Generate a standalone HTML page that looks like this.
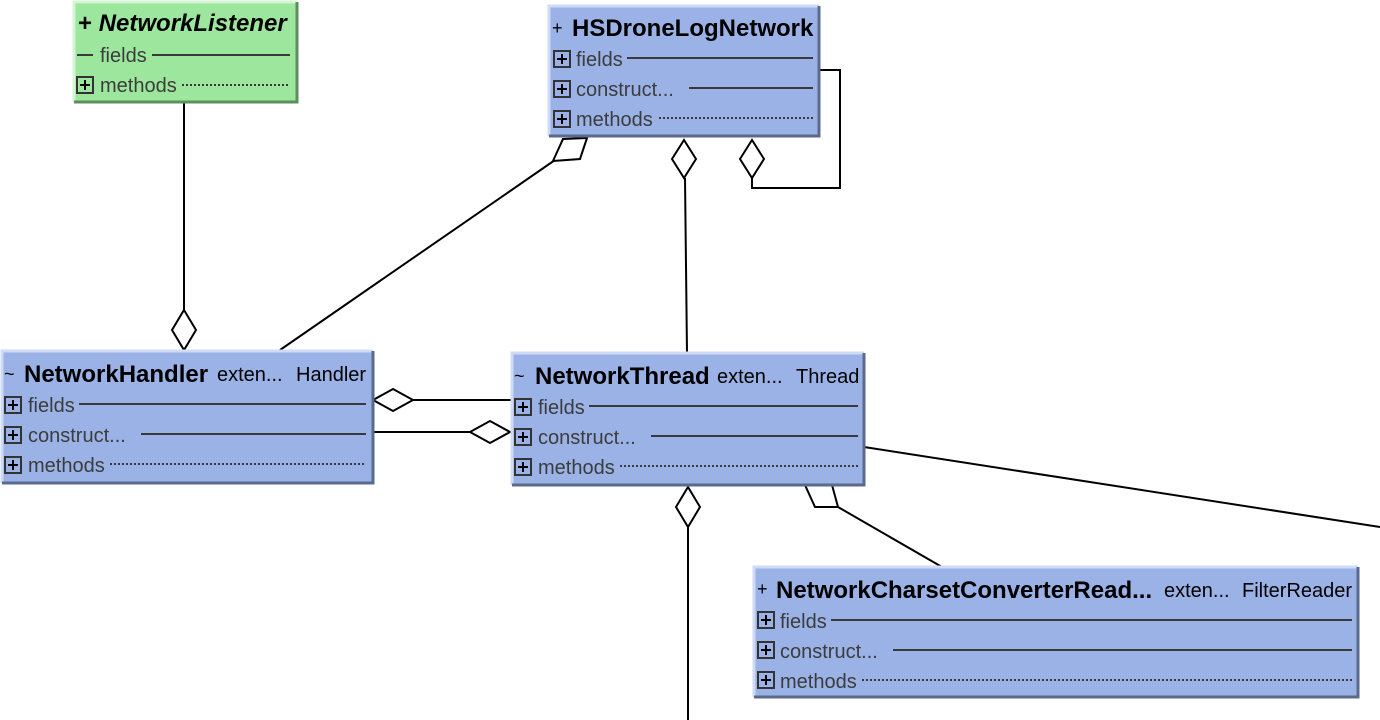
<!DOCTYPE html>
<html><head><meta charset="utf-8"><style>
html,body{margin:0;padding:0;background:#fff;}
svg{display:block;font-family:"Liberation Sans",Arial,sans-serif;}
.t{font-size:24px;font-weight:bold;fill:#000}
.s{font-size:20px;fill:#000}
.p{font-size:18px;fill:#000}
.r{font-size:20px;fill:#3c3c3c}
.ln{stroke:#3a3a3a;stroke-width:2}
.dt{stroke:#3a3a3a;stroke-width:2;stroke-dasharray:2,2}
.c{stroke:#000;stroke-width:2;fill:none}
.d{stroke:#000;stroke-width:2;fill:#fff}
.pb{fill:none;stroke:#333;stroke-width:2}
</style></head><body>
<svg width="1380" height="720" viewBox="0 0 1380 720">
<defs>
<g id="plus"><rect class="pb" x="0" y="-8" width="16" height="16"/><path d="M3 0H13M8 -5V5" stroke="#000" stroke-width="2"/></g>
</defs>

<path class="c" d="M184 102V310"/>
<polygon class="d" points="184,310 196,330 184,350 172,330"/>
<path class="c" d="M280 350L555 160"/>
<polygon class="d" points="563,139 587,138 580,159 553,161"/>
<path class="c" d="M685 178L687 353"/>
<polygon class="d" points="684,140 696,159 684,178 672,159"/>
<path class="c" d="M752 178V188H840V70H819"/>
<polygon class="d" points="752,140 764,159 752,178 740,159"/>
<path class="c" d="M413 400H512"/>
<polygon class="d" points="373,400 393,389 413,400 393,411"/>
<path class="c" d="M373 432H470"/>
<polygon class="d" points="470,432 490,421 510,432 490,443"/>
<path class="c" d="M688 527V720"/>
<polygon class="d" points="688,487 700,507 688,527 676,507"/>
<path class="c" d="M838 507L942 567"/>
<polygon class="d" points="805,485 832,485 838,507 815,507"/>
<path class="c" d="M864 447L1380 527"/>

<rect x="74" y="2" width="223" height="100" fill="#9de69d"/>
<path d="M74 102V2H297" stroke="#d4f4d4" stroke-width="3" fill="none"/>
<path d="M297 2V102H74" stroke="#5e8e5e" stroke-width="3" fill="none"/>
<text class="t" x="78" y="31">+ <tspan font-style="italic">NetworkListener</tspan></text>
<path class="ln" d="M77 55H93M152 55H290"/>
<text class="r" x="100" y="62">fields</text>
<use href="#plus" x="77" y="85"/>
<text class="r" x="100" y="92">methods</text>
<path class="dt" d="M182 85H290"/>

<rect x="549" y="6" width="270" height="130" fill="#9ab2e6"/>
<path d="M549 136V6H819" stroke="#cfdbf6" stroke-width="3" fill="none"/>
<path d="M819 6V136H549" stroke="#5a6a8c" stroke-width="3" fill="none"/>
<text class="p" x="552" y="34">+</text><text class="t" x="572" y="36">HSDroneLogNetwork</text>
<use href="#plus" x="554" y="59"/><text class="r" x="576" y="66">fields</text><path class="ln" d="M627 58H813"/>
<use href="#plus" x="554" y="89"/><text class="r" x="576" y="96">construct...</text><path class="ln" d="M689 88H813"/>
<use href="#plus" x="554" y="119"/><text class="r" x="576" y="126">methods</text><path class="dt" d="M659 118H813"/>

<rect x="2" y="351" width="371" height="132" fill="#9ab2e6"/>
<path d="M2 483V351H373" stroke="#cfdbf6" stroke-width="3" fill="none"/>
<path d="M373 351V483H2" stroke="#5a6a8c" stroke-width="3" fill="none"/>
<text class="p" x="4" y="380">~</text><text class="t" x="24" y="382">NetworkHandler</text>
<text class="s" x="217" y="381">exten...</text><text class="s" x="296" y="381">Handler</text>
<use href="#plus" x="5" y="405"/><text class="r" x="28" y="412">fields</text><path class="ln" d="M79 404H366"/>
<use href="#plus" x="5" y="435"/><text class="r" x="28" y="442">construct...</text><path class="ln" d="M141 434H366"/>
<use href="#plus" x="5" y="465"/><text class="r" x="28" y="472">methods</text><path class="dt" d="M110 464H366"/>

<rect x="512" y="353" width="352" height="132" fill="#9ab2e6"/>
<path d="M512 485V353H864" stroke="#cfdbf6" stroke-width="3" fill="none"/>
<path d="M864 353V485H512" stroke="#5a6a8c" stroke-width="3" fill="none"/>
<text class="p" x="514" y="382">~</text><text class="t" x="535" y="384">NetworkThread</text>
<text class="s" x="717" y="383">exten...</text><text class="s" x="796" y="383">Thread</text>
<use href="#plus" x="515" y="407"/><text class="r" x="538" y="414">fields</text><path class="ln" d="M589 406H858"/>
<use href="#plus" x="515" y="437"/><text class="r" x="538" y="444">construct...</text><path class="ln" d="M651 436H858"/>
<use href="#plus" x="515" y="467"/><text class="r" x="538" y="474">methods</text><path class="dt" d="M620 466H858"/>

<rect x="754" y="567" width="604" height="130" fill="#9ab2e6"/>
<path d="M754 697V567H1358" stroke="#cfdbf6" stroke-width="3" fill="none"/>
<path d="M1358 567V697H754" stroke="#5a6a8c" stroke-width="3" fill="none"/>
<text class="p" x="757" y="595">+</text><text class="t" x="776" y="598">NetworkCharsetConverterRead...</text>
<text class="s" x="1164" y="597">exten...</text><text class="s" x="1242" y="597">FilterReader</text>
<use href="#plus" x="758" y="620"/><text class="r" x="780" y="628">fields</text><path class="ln" d="M831 620H1352"/>
<use href="#plus" x="758" y="650"/><text class="r" x="780" y="658">construct...</text><path class="ln" d="M893 650H1352"/>
<use href="#plus" x="758" y="680"/><text class="r" x="780" y="688">methods</text><path class="dt" d="M862 680H1352"/>
</svg>
</body></html>
